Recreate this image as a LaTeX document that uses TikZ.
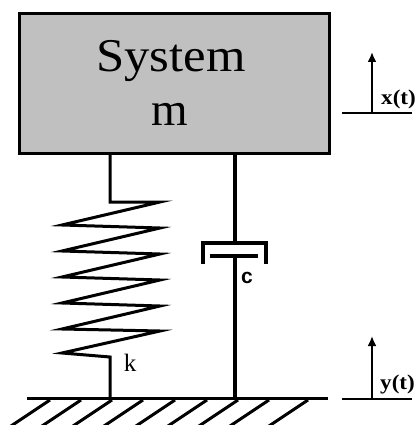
\documentclass[tikz,border=0pt]{standalone}
\usepackage{fontspec}
\setmainfont{Liberation Serif}
\newfontfamily\labsans{Liberation Sans}
\usetikzlibrary{arrows.meta}
\definecolor{massgray}{HTML}{C0C0C0}
\tikzset{
  massbox/.style={draw=black, line width=3.4pt, fill=massgray, minimum width=310pt, minimum height=140pt, inner sep=0pt},
  bigtext/.style={font=\fontsize{47}{47}\selectfont, inner sep=0pt, anchor=base},
  springline/.style={line width=3pt, line join=miter},
  damperline/.style={line width=3.4pt},
  groundline/.style={line width=3.4pt},
  hatchline/.style={line width=3pt},
  refline/.style={line width=2.4pt},
  disparrow/.style={line width=2.4pt, -{Latex[length=10pt,width=9pt]}},
  siglabel/.style={font=\bfseries\fontsize{21}{21}\selectfont, inner sep=0pt, anchor=base west, xscale=1.1},
}
\begin{document}
\begin{tikzpicture}[x=1pt,y=-1pt]
\useasboundingbox (0,0) rectangle (418,425);
% mass
\node[massbox] (mass) at (174.5,83.5) {};
\node[bigtext, xscale=1.08] (sys) at (171,72) {System};
\node[bigtext] (m) at (170,125) {m};
% spring
\coordinate (sTop) at (110,155);
\coordinate (sBot) at (110,398);
\draw[springline] (sTop) -- (110,202) -- (160,202) -- (62,225) -- (160,228) -- (62,251) -- (160,254)
  -- (62,277) -- (160,280) -- (62,303) -- (160,306) -- (62,329) -- (160,331) -- (62,353) -- (110,357) -- (sBot);
\node[font=\fontsize{25}{25}\selectfont, inner sep=0pt, anchor=base] (k) at (130,371) {k};
% damper
\coordinate (dTop) at (235,155);
\coordinate (dCup) at (235,243);
\coordinate (dPis) at (235,256);
\coordinate (dBot) at (235,398);
\draw[damperline] (dTop) -- (dCup);
\draw[damperline] (203,264) -- (203,243) -- (266,243) -- (266,264);
\draw[damperline] (210,256) -- (258,256);
\draw[damperline] (dPis) -- (dBot);
\node[font=\labsans\bfseries\fontsize{21}{21}\selectfont, inner sep=0pt, anchor=base] (c) at (247,283) {c};
% ground
\coordinate (gL) at (27,398.5);
\coordinate (gR) at (328,398.5);
\draw[groundline] (gL) -- (gR);
\foreach \hx in {50,81,112,143,175,207,238,269,308}{
  \draw[hatchline] (\hx,400) -- (\hx-39,426);
}
% x(t)
\coordinate (xL) at (342,113);
\coordinate (xR) at (412,113);
\coordinate (xB) at (372,113);
\coordinate (xT) at (372,52);
\draw[refline] (xL) -- (xR);
\draw[disparrow] (xB) -- (xT);
\node[siglabel] (xt) at (381,105) {x(t)};
% y(t)
\coordinate (yL) at (342,399);
\coordinate (yR) at (412,399);
\coordinate (yB) at (372,399);
\coordinate (yT) at (372,336);
\draw[refline] (yL) -- (yR);
\draw[disparrow] (yB) -- (yT);
\node[siglabel] (yt) at (380,389) {y(t)};
\end{tikzpicture}
\end{document}
